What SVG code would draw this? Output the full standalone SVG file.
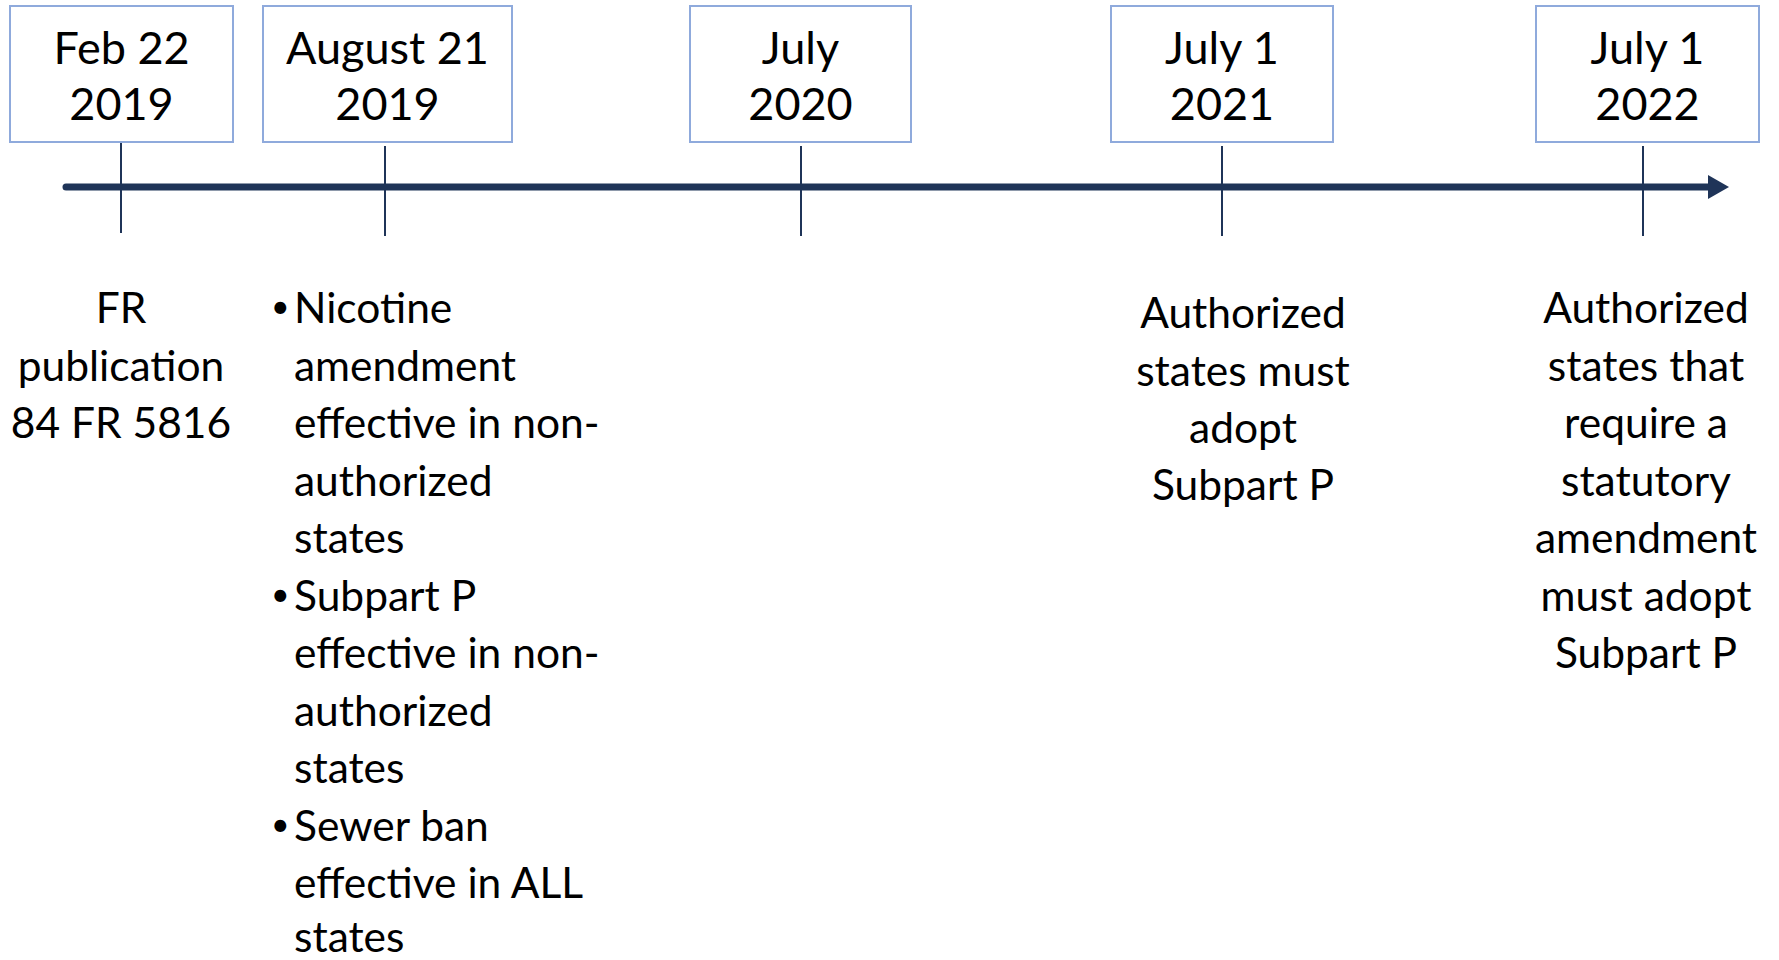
<svg xmlns="http://www.w3.org/2000/svg" width="1779" height="960" viewBox="0 0 1779 960">
<style>
.box{fill:#fff;stroke:#8faadc;stroke-width:2}
.tick{stroke:#1f3458;stroke-width:2}
.axis{stroke:#1f3458;stroke-width:7;stroke-linecap:round}
.date{font-family:Lato,"Liberation Sans",sans-serif;font-size:45px;fill:#000;text-anchor:middle}
.body{font-family:Lato,"Liberation Sans",sans-serif;font-size:42.5px;fill:#000}
.bul{font-family:Lato,"Liberation Sans",sans-serif;font-size:32px;fill:#000}
.c{text-anchor:middle}
</style>
<rect width="1779" height="960" fill="#fff"/>
<g id="connectors">
<line class="axis" x1="66" y1="187" x2="1712" y2="187"/>
<path d="M1708,175 L1729,187 L1708,199 Z" fill="#1f3458"/>
<line class="tick" x1="121" y1="142" x2="121" y2="233"/>
<line class="tick" x1="385" y1="146" x2="385" y2="236"/>
<line class="tick" x1="801" y1="146" x2="801" y2="236"/>
<line class="tick" x1="1222" y1="146" x2="1222" y2="236"/>
<line class="tick" x1="1643" y1="146" x2="1643" y2="236"/>
</g>
<g id="d1">
<rect class="box" x="10" y="6" width="223" height="136"/>
<text class="date" x="121.5" y="64">Feb 22</text>
<text class="date" x="121.5" y="120">2019</text>
</g>
<g id="d2">
<rect class="box" x="263" y="6" width="249" height="136"/>
<text class="date" x="387.5" y="64">August 21</text>
<text class="date" x="387.5" y="120">2019</text>
</g>
<g id="d3">
<rect class="box" x="690" y="6" width="221" height="136"/>
<text class="date" x="800.5" y="64">July</text>
<text class="date" x="800.5" y="120">2020</text>
</g>
<g id="d4">
<rect class="box" x="1111" y="6" width="222" height="136"/>
<text class="date" x="1222" y="64">July 1</text>
<text class="date" x="1222" y="120">2021</text>
</g>
<g id="d5">
<rect class="box" x="1536" y="6" width="223" height="136"/>
<text class="date" x="1647.5" y="64">July 1</text>
<text class="date" x="1647.5" y="120">2022</text>
</g>
<g id="t1">
<text class="body c" x="121" y="323">FR</text>
<text class="body c" x="121" y="381">publication</text>
<text class="body c" x="121" y="438">84 FR 5816</text>
</g>
<g id="t2">
<text class="bul" x="271" y="318">•</text>
<text class="body" x="294" y="323">Nicotine</text>
<text class="body" x="294" y="381">amendment</text>
<text class="body" x="294" y="438">effective in non-</text>
<text class="body" x="294" y="496">authorized</text>
<text class="body" x="294" y="553">states</text>
<text class="bul" x="271" y="606">•</text>
<text class="body" x="294" y="611">Subpart P</text>
<text class="body" x="294" y="668">effective in non-</text>
<text class="body" x="294" y="726">authorized</text>
<text class="body" x="294" y="783">states</text>
<text class="bul" x="271" y="836">•</text>
<text class="body" x="294" y="841">Sewer ban</text>
<text class="body" x="294" y="898">effective in ALL</text>
<text class="body" x="294" y="952">states</text>
</g>
<g id="t4">
<text class="body c" x="1243" y="328">Authorized</text>
<text class="body c" x="1243" y="386">states must</text>
<text class="body c" x="1243" y="443">adopt</text>
<text class="body c" x="1243" y="500">Subpart P</text>
</g>
<g id="t5">
<text class="body c" x="1646" y="323">Authorized</text>
<text class="body c" x="1646" y="381">states that</text>
<text class="body c" x="1646" y="438">require a</text>
<text class="body c" x="1646" y="496">statutory</text>
<text class="body c" x="1646" y="553">amendment</text>
<text class="body c" x="1646" y="611">must adopt</text>
<text class="body c" x="1646" y="668">Subpart P</text>
</g>
</svg>
